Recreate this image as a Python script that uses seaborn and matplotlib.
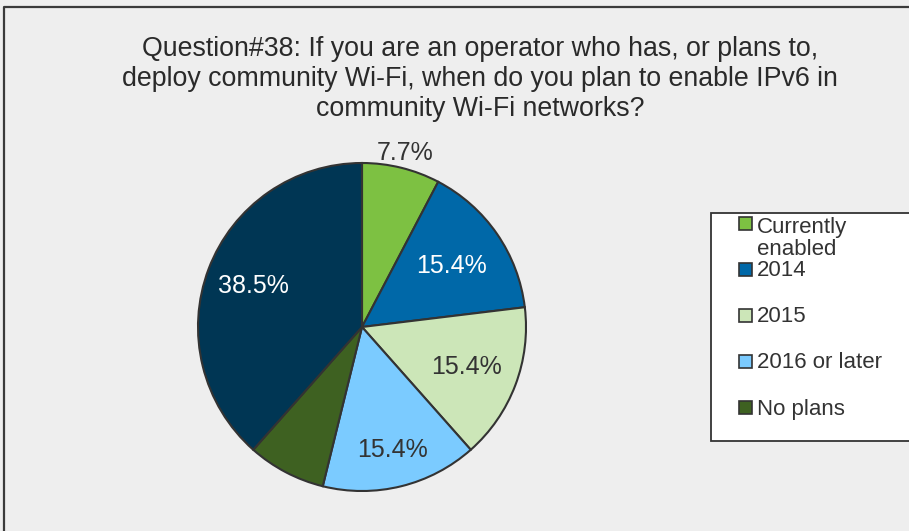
import matplotlib
matplotlib.use("Agg")
import matplotlib.pyplot as plt
from matplotlib.patches import Rectangle
import numpy as np
import seaborn as sns

# survey answers, clockwise from 12 o'clock
categories = ["Currently enabled", "2014", "2015", "2016 or later", "No plans", "Don't know"]
shares = [7.7, 15.4, 15.4, 15.4, 7.7, 38.5]
show_pct = [True, True, True, True, False, True]
legend_labels = ["Currently\nenabled", "2014", "2015", "2016 or later", "No plans"]

title = ("Question#38: If you are an operator who has, or plans to,\n"
         "deploy community Wi-Fi, when do you plan to enable IPv6 in\n"
         "community Wi-Fi networks?")

colors = ["#7DC142", "#0068A8", "#CCE6B8", "#7BCBFF", "#3E6121", "#003654"]
label_colors = ["#333333", "white", "#333333", "#333333", "#333333", "white"]
label_dist = [1.09, 0.66, 0.68, 0.77, 0.7, 0.71]

sns.set_theme(style="white")
plt.rcParams["font.family"] = ["Liberation Sans", "DejaVu Sans"]
TXT = "#333333"
EDGE = "#333333"

W, H = 909, 531
fig = plt.figure(figsize=(W / 100, H / 100), dpi=100, facecolor="#EEEEEE")

# pixel-space overlay for frame, title and legend
bg = fig.add_axes([0, 0, 1, 1])
bg.set_xlim(0, W)
bg.set_ylim(H, 0)
bg.axis("off")
bg.plot([4, 4, W + 5], [H + 5, 7, 7], color="#3A3A3A", lw=1.6, solid_capstyle="butt")
bg.text(480, 36, title, ha="center", va="top", fontsize=19.3, color="#2A2A2A", linespacing=1.2)

# legend box
bg.add_patch(Rectangle((711, 213), 220, 228, facecolor="white", edgecolor=EDGE, lw=1.3))
y0, step = 223, 46
for i, lab in enumerate(legend_labels):
    yc = y0 + i * step
    bg.add_patch(Rectangle((739, yc - 6.5), 13, 13, facecolor=colors[i], edgecolor=EDGE, lw=1.2))
    if "\n" in lab:
        bg.text(757, yc - 6, lab, ha="left", va="top", fontsize=16, color=TXT, linespacing=1.05)
    else:
        bg.text(757, yc + 2, lab, ha="left", va="center", fontsize=16, color=TXT)

# pie
cx, cy, r = 362, 327, 164
pad = 167
ax = fig.add_axes([(cx - pad) / W, (H - cy - pad) / H, 2 * pad / W, 2 * pad / H])
ax.set_facecolor("none")
wedges, _ = ax.pie(shares, colors=colors, startangle=90, counterclock=False,
                   wedgeprops=dict(edgecolor=EDGE, linewidth=1.5))
lim = pad / r
ax.set_xlim(-lim, lim)
ax.set_ylim(-lim, lim)
ax.set_aspect("equal")
ax.axis("off")

for i, w in enumerate(wedges):
    if not show_pct[i]:
        continue
    ang = np.deg2rad((w.theta1 + w.theta2) / 2)
    d = label_dist[i]
    ax.text(d * np.cos(ang), d * np.sin(ang), f"{shares[i]:.1f}%", ha="center", va="center",
            fontsize=18, color=label_colors[i])

fig.savefig("out.png", dpi=100, facecolor=fig.get_facecolor())
